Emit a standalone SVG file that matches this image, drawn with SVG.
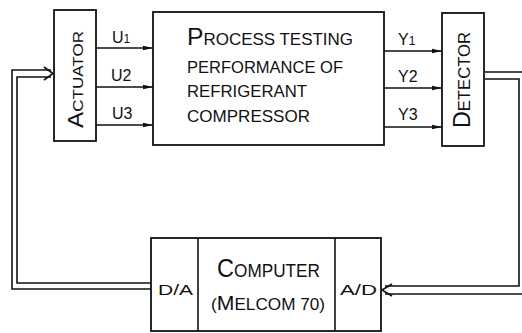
<svg xmlns="http://www.w3.org/2000/svg" width="522" height="333" viewBox="0 0 522 333">
<defs>
<style>
.box{fill:#fff;stroke:#111;stroke-width:1.8}
.ln{fill:none;stroke:#111;stroke-width:1.6}
.t{font-family:"Liberation Sans",Arial,sans-serif;fill:#111}
.lb{font-size:16}
.sb{font-size:13}
</style>
<marker id="ah" viewBox="0 0 10 6" refX="10" refY="3" markerWidth="10" markerHeight="6" markerUnits="userSpaceOnUse" orient="auto">
<path d="M0,0.8 L10,3 L0,5.2 Z" fill="#111"/>
</marker>
</defs>
<rect width="522" height="333" fill="#fff"/>
<g id="connectors">
<line class="ln" x1="96" y1="48" x2="153" y2="48" marker-end="url(#ah)"/>
<line class="ln" x1="96" y1="87" x2="153" y2="87" marker-end="url(#ah)"/>
<line class="ln" x1="96" y1="125" x2="153" y2="125" marker-end="url(#ah)"/>
<line class="ln" x1="384" y1="51" x2="442" y2="51" marker-end="url(#ah)"/>
<line class="ln" x1="384" y1="88" x2="442" y2="88" marker-end="url(#ah)"/>
<line class="ln" x1="384" y1="127" x2="442" y2="127" marker-end="url(#ah)"/>
<polyline class="ln" points="151,289 12,289 12,70 51,70"/>
<polyline class="ln" points="151,283 17,283 17,77 51,77"/>
<polyline class="ln" points="44,67 53,73.5 44,80"/>
<polyline class="ln" points="485,72 525,72 525,294 385,294"/>
<polyline class="ln" points="485,79 519,79 519,286 385,286"/>
<polyline class="ln" points="392,284 382,290 392,296"/>
<text class="t lb" x="112" y="43">U<tspan class="sb" font-size="12">1</tspan></text>
<text class="t lb" x="111" y="81">U<tspan class="sb">2</tspan></text>
<text class="t lb" x="112" y="119">U<tspan class="sb">3</tspan></text>
<text class="t lb" x="398" y="45">Y<tspan class="sb" font-size="12">1</tspan></text>
<text class="t lb" x="398" y="82">Y<tspan class="sb">2</tspan></text>
<text class="t lb" x="398" y="120">Y<tspan class="sb">3</tspan></text>
</g>
<g id="actuator">
<rect class="box" x="54" y="10" width="42" height="131"/>
<text class="t" transform="translate(83,128) rotate(-90)" textLength="97" lengthAdjust="spacingAndGlyphs"><tspan font-size="22">A</tspan><tspan font-size="15.5">CTUATOR</tspan></text>
</g>
<g id="process">
<rect class="box" x="153" y="12" width="231" height="133"/>
<text class="t" x="187" y="45" textLength="166" lengthAdjust="spacingAndGlyphs"><tspan font-size="24">P</tspan><tspan font-size="16.5">ROCESS TESTING</tspan></text>
<text class="t" x="187" y="73" font-size="17" textLength="156" lengthAdjust="spacingAndGlyphs">PERFORMANCE OF</text>
<text class="t" x="187" y="97" font-size="17" textLength="120" lengthAdjust="spacingAndGlyphs">REFRIGERANT</text>
<text class="t" x="187" y="122" font-size="17" textLength="123" lengthAdjust="spacingAndGlyphs">COMPRESSOR</text>
</g>
<g id="detector">
<rect class="box" x="442" y="13" width="42" height="133"/>
<text class="t" transform="translate(470,128) rotate(-90)" textLength="96" lengthAdjust="spacingAndGlyphs"><tspan font-size="23">D</tspan><tspan font-size="16.5">ETECTOR</tspan></text>
</g>
<g id="computer">
<rect class="box" x="151" y="238" width="230" height="93"/>
<line class="ln" x1="198" y1="238" x2="198" y2="331"/>
<line class="ln" x1="335" y1="238" x2="335" y2="331"/>
<text class="t" x="217" y="277" textLength="103" lengthAdjust="spacingAndGlyphs"><tspan font-size="26">C</tspan><tspan font-size="19">OMPUTER</tspan></text>
<text class="t" x="211" y="310" textLength="114" lengthAdjust="spacingAndGlyphs"><tspan font-size="17">(</tspan><tspan font-size="21">M</tspan><tspan font-size="17">ELCOM 70)</tspan></text>
<text class="t" x="158" y="295" font-size="15.5" textLength="35" lengthAdjust="spacingAndGlyphs">D/A</text>
<text class="t" x="340" y="295" font-size="15.5" textLength="37" lengthAdjust="spacingAndGlyphs">A/D</text>
</g>
</svg>
